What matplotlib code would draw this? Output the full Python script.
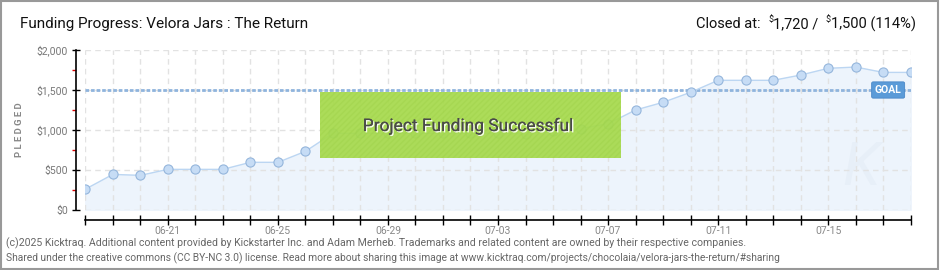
import matplotlib
matplotlib.use("Agg")
import matplotlib.pyplot as plt
import matplotlib.patheffects as pe
from matplotlib.patches import Rectangle
from matplotlib.ticker import FixedLocator
from matplotlib import font_manager

# ---- data -------------------------------------------------------------
dates = ["06-18", "06-19", "06-20", "06-21", "06-22", "06-23", "06-24", "06-25",
         "06-26", "06-27", "06-28", "06-29", "06-30", "07-01", "07-02", "07-03",
         "07-04", "07-05", "07-06", "07-07", "07-08", "07-09", "07-10", "07-11",
         "07-12", "07-13", "07-14", "07-15", "07-16", "07-17", "07-18"]
pledged = [260, 445, 433, 508, 508, 508, 596, 596,
           733, 960, 960, 960, 960, 960, 960, 960,
           955, 985, 1018, 1078, 1250, 1346, 1471, 1621,
           1621, 1621, 1687, 1771, 1787, 1720, 1720]
labelled_dates = ["06-21", "06-25", "06-29", "07-03", "07-07", "07-11", "07-15"]
goal = 1500
closed_at = 1720
y_ticks = [0, 500, 1000, 1500, 2000]
y_tick_labels = ["$0", "$500", "$1,000", "$1,500", "$2,000"]
y_minor_ticks = [250, 750, 1250, 1750]

# ---- fonts ------------------------------------------------------------
installed = {f.name for f in font_manager.fontManager.ttflist}
narrow = "Liberation Sans Narrow" if "Liberation Sans Narrow" in installed else "Roboto"
plt.rcParams["font.family"] = [narrow, "DejaVu Sans"]

W, H = 940, 270
PT = 0.72  # points per pixel at 100 dpi
fig = plt.figure(figsize=(W / 100, H / 100), dpi=100)
fig.patch.set_facecolor("white")

def fx(px):
    return px / W

def fy(py):
    return (H - py) / H

ax = fig.add_axes([fx(85.3), fy(210), fx(910.7) - fx(85.3), fy(50) - fy(210)])
x = list(range(len(dates)))

ax.set_xlim(0, len(dates) - 1)
ax.set_ylim(0, 2000)

# area, grid, goal line, series
ax.fill_between(x, 0, pledged, color="#edf4fc", zorder=1)
for v in y_ticks:
    ax.axhline(v, color="#e2e2e2", lw=1, dashes=(4, 3), zorder=2)
for xi in x:
    ax.axvline(xi, color="#e2e2e2", lw=1, dashes=(4, 3), zorder=2)
ax.axhline(goal, color="#8fb4dd", lw=2.0, dashes=(1.3, 0.7), zorder=3)
ax.plot(x, pledged, color="#bcd6f2", lw=1.0, zorder=4)
ax.plot(x, pledged, ls="none", marker="o", ms=6.6, mfc="#c6dcf5", mec="#95b6dc",
        mew=0.8, zorder=5)

# goal tag
ax.text(29.18, goal, "GOAL", color="white", fontsize=7.5, fontweight="bold",
        ha="center", va="center", zorder=8,
        bbox=dict(boxstyle="round,pad=0.3,rounding_size=0.15", fc="#5b9bd8",
                  ec="#4a88c8", lw=0.6))

# faint logo mark in the lower right of the plot area
ax.text(28.2, 520, "K", ha="center", va="center", fontsize=44, style="italic",
        color="#e3ecf6", alpha=0.6, zorder=1.5)

# axes styling
for side in ("top", "right"):
    ax.spines[side].set_visible(False)
ax.spines["left"].set_position(("outward", 9 * PT))
ax.spines["bottom"].set_position(("outward", 10 * PT))
ax.spines["left"].set_linewidth(1.2)
ax.spines["bottom"].set_linewidth(1.2)

ax.yaxis.set_major_locator(FixedLocator(y_ticks))
ax.set_yticklabels(y_tick_labels)
ax.yaxis.set_minor_locator(FixedLocator(y_minor_ticks))
ax.tick_params(axis="y", which="major", direction="inout", length=6, width=1,
               colors="black", labelcolor="#777777", labelsize=7.5, pad=3)
ax.tick_params(axis="y", which="minor", direction="out", length=3, width=1,
               color="#dd0000")

ax.xaxis.set_major_locator(FixedLocator(x))
ax.set_xticklabels([d if d in labelled_dates else "" for d in dates])
ax.tick_params(axis="x", which="major", direction="inout", length=7, width=1,
               colors="black", labelcolor="#888888", labelsize=7.5, pad=1)

fig.text(fx(20), fy(130), "P L E D G E D", rotation=90, ha="center", va="center",
         color="#888888", fontsize=6.8, fontweight="bold")

# success banner
banner = Rectangle((fx(320), fy(158)), fx(621) - fx(320), fy(92) - fy(158),
                   transform=fig.transFigure, fc="#a6da4c", ec="none",
                   alpha=0.93, zorder=10)
fig.patches.append(banner)
hatch = Rectangle((fx(320), fy(158)), fx(621) - fx(320), fy(92) - fy(158),
                  transform=fig.transFigure, fc="none", ec="#9bcf45", lw=0,
                  hatch="//////", alpha=0.35, zorder=11)
fig.patches.append(hatch)
fig.text(fx(468), fy(126), "Project Funding Successful", ha="center",
         va="center", fontsize=12.5, color="#4a4a4a", zorder=12,
         path_effects=[pe.withSimplePatchShadow(offset=(1, -1),
                                                shadow_rgbFace="white",
                                                alpha=0.9),
                       pe.Normal()])

# header
fig.text(fx(20), fy(24), "Funding Progress: Velora Jars : The Return",
         ha="left", va="center", fontsize=11, color="#111111")

fig.canvas.draw()
renderer = fig.canvas.get_renderer()

# right header assembled from the right edge
percent = int(closed_at * 100 / goal)
pieces = [("Closed at:  ", 10.5, 0), ("$", 6.5, 4), (f"{closed_at:,} /  ", 10.5, 0),
          ("$", 6.5, 4), (f"{goal:,} ({percent}%)", 10.5, 0)]
right = 916
for text, size, rise in reversed(pieces):
    t = fig.text(fx(right), fy(24 - rise), text, ha="right", va="center",
                 fontsize=size, color="#111111")
    bb = t.get_window_extent(renderer)
    right -= bb.width

# footer
fig.text(fx(6), fy(243),
         "(c)2025 Kicktraq. Additional content provided by Kickstarter Inc. and "
         "Adam Merheb. Trademarks and related content are owned by their "
         "respective companies.", ha="left", va="center", fontsize=7.6,
         color="#666666")
fig.text(fx(6), fy(258),
         "Shared under the creative commons (CC BY-NC 3.0) license. Read more "
         "about sharing this image at www.kicktraq.com/projects/chocolaia/"
         "velora-jars-the-return/#sharing", ha="left", va="center", fontsize=7.4,
         color="#666666")

# frame
fig.patches.append(Rectangle((0.001, 0.002), 0.997, 0.995,
                             transform=fig.transFigure, fill=False,
                             ec="#999999", lw=1.5))

fig.savefig("out.png", dpi=100)
